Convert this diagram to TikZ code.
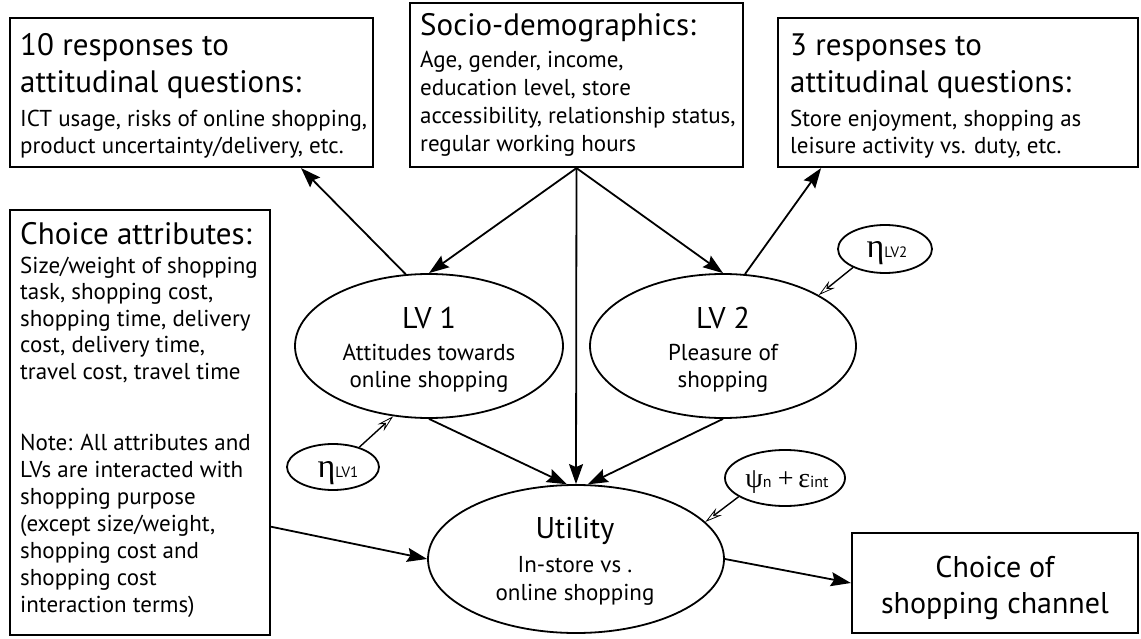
\documentclass[tikz,border=0pt]{standalone}
\usepackage{fontspec}
\setmainfont{PT Sans}
\newfontfamily\grk{Liberation Serif}
\usetikzlibrary{arrows.meta,calc,shapes.geometric}
\begin{document}
\begin{tikzpicture}[x=1pt,y=-1pt,
  box/.style={draw, line width=2.2pt, inner sep=0pt},
  oval/.style={draw, ellipse, line width=1.8pt, inner sep=0pt},
  ttl/.style={anchor=base west, inner sep=0pt, font=\fontsize{31}{34}\selectfont},
  bdy/.style={anchor=base west, inner sep=0pt, font=\fontsize{23}{27}\selectfont},
  cbig/.style={anchor=base, inner sep=0pt, font=\fontsize{30}{34}\selectfont},
  cbdy/.style={anchor=base, inner sep=0pt, font=\fontsize{23}{27}\selectfont},
  arr/.style={line width=1.8pt, -{Stealth[length=20pt,width=14pt,inset=3pt]}},
  oarr/.style={line width=1.4pt, -{Stealth[open,length=17pt,width=9pt,inset=6pt,line width=0.8pt]}}]
\useasboundingbox[fill=white] (0,0) rectangle (1141,639);

% boxes
\node[box, minimum width=363pt, minimum height=149pt] (A) at (191.5,92.5) {};
\node[box, minimum width=333pt, minimum height=164pt] (B) at (576.5,85) {};
\node[box, minimum width=360pt, minimum height=149pt] (C) at (958,92.5) {};
\node[box, minimum width=260pt, minimum height=425pt] (D) at (140,422.5) {};
\node[box, minimum width=286pt, minimum height=100pt] (E) at (995,583) {};

% ellipses
\node[oval, minimum width=268pt, minimum height=144pt] (lv1) at (429,346) {};
\node[oval, minimum width=266pt, minimum height=144pt] (lv2) at (723,346) {};
\node[oval, minimum width=296pt, minimum height=148pt] (util) at (576,559) {};
\node[oval, minimum width=92pt, minimum height=46pt] (etaA) at (333,467) {};
\node[oval, minimum width=94pt, minimum height=48pt] (etaB) at (885,249) {};
\node[oval, minimum width=120pt, minimum height=56pt] (psi) at (785,478) {};

% box A text
\node[ttl] (a1) at (20,56) {10 responses to};
\node[ttl] (a2) at (20,93) {attitudinal questions:};
\node[bdy] (a3) at (20,127) {ICT usage, risks of online shopping,};
\node[bdy] (a4) at (20,154) {product uncertainty/delivery, etc.};

% box B text
\node[ttl] (b1) at (420,36) {Socio-demographics:};
\node[bdy] (b2) at (420,68) {Age, gender, income,};
\node[bdy] (b3) at (420,96) {education level, store};
\node[bdy] (b4) at (420,124) {accessibility, relationship status,};
\node[bdy] (b5) at (420,152) {regular working hours};

% box C text
\node[ttl] (c1) at (790,56) {3 responses to};
\node[ttl] (c2) at (790,93) {attitudinal questions:};
\node[bdy] (c3) at (790,127) {Store enjoyment, shopping as};
\node[bdy] (c4) at (790,154) {leisure activity vs. duty, etc.};

% box D text
\node[ttl] (d0) at (20,245) {Choice attributes:};
\node[bdy] (d1) at (20,273) {Size/weight of shopping};
\node[bdy] (d2) at (20,299.5) {task, shopping cost,};
\node[bdy] (d3) at (20,326) {shopping time, delivery};
\node[bdy] (d4) at (20,352.5) {cost, delivery time,};
\node[bdy] (d5) at (20,379) {travel cost, travel time};
\node[bdy] (d6) at (20,450) {Note: All attributes and};
\node[bdy] (d7) at (20,477) {LVs are interacted with};
\node[bdy] (d8) at (20,504) {shopping purpose};
\node[bdy] (d9) at (20,531) {(except size/weight,};
\node[bdy] (d10) at (20,558) {shopping cost and};
\node[bdy] (d11) at (20,585) {shopping cost};
\node[bdy] (d12) at (20,612) {interaction terms)};

% box E text
\node[cbig] (e1) at (995,577) {Choice of};
\node[cbig] (e2) at (995,613) {shopping channel};

% ellipse texts
\node[cbig] (l1a) at (429,328) {LV 1};
\node[cbdy] (l1b) at (429,360) {Attitudes towards};
\node[cbdy] (l1c) at (429,387) {online shopping};
\node[cbig] (l2a) at (723,328) {LV 2};
\node[cbdy] (l2b) at (723,360) {Pleasure of};
\node[cbdy] (l2c) at (723,387) {shopping};
\node[cbig] (u1) at (575,538) {Utility};
\node[cbdy] (u2) at (575,572) {In-store vs .};
\node[cbdy] (u3) at (575,600) {online shopping};

\node[anchor=base, inner sep=0pt] (etaAt) at (338,477) {{\grk\fontsize{34}{34}\selectfont η}{\fontsize{15}{15}\selectfont LV1}};
\node[anchor=base, inner sep=0pt] (etaBt) at (887,258) {{\grk\fontsize{34}{34}\selectfont η}{\fontsize{15}{15}\selectfont LV2}};
\node[anchor=base, inner sep=0pt] (psit) at (787,487) {{\grk\fontsize{28}{28}\selectfont ψ}{\fontsize{16}{16}\selectfont n}\,{\grk\fontsize{28}{28}\selectfont\,+\,ε}{\fontsize{16}{16}\selectfont int}};

% connectors
\draw[arr] (lv1.108) -- ($(A.south west)!0.8!(A.south east)$);
\draw[arr] (B.south) -- (lv1.north);
\draw[arr] (B.south) -- (lv2.north);
\draw[arr] (B.south) -- (util.north);
\draw[arr] (lv2.73) -- ($(C.south west)!0.122!(C.south east)$);
\draw[arr] (lv1.south) -- (util.97);
\draw[arr] (lv2.south) -- (util.81);
\draw[arr] ($(D.north east)!0.744!(D.south east)$) -- (util.west);
\draw[arr] (util.east) -- (E.west);
\draw[oarr] (psi.202) -- (util.16);
\draw[oarr] (etaA.37) -- (lv1.243);
\draw[oarr] (etaB.210) -- (lv2.28);
\end{tikzpicture}
\end{document}
